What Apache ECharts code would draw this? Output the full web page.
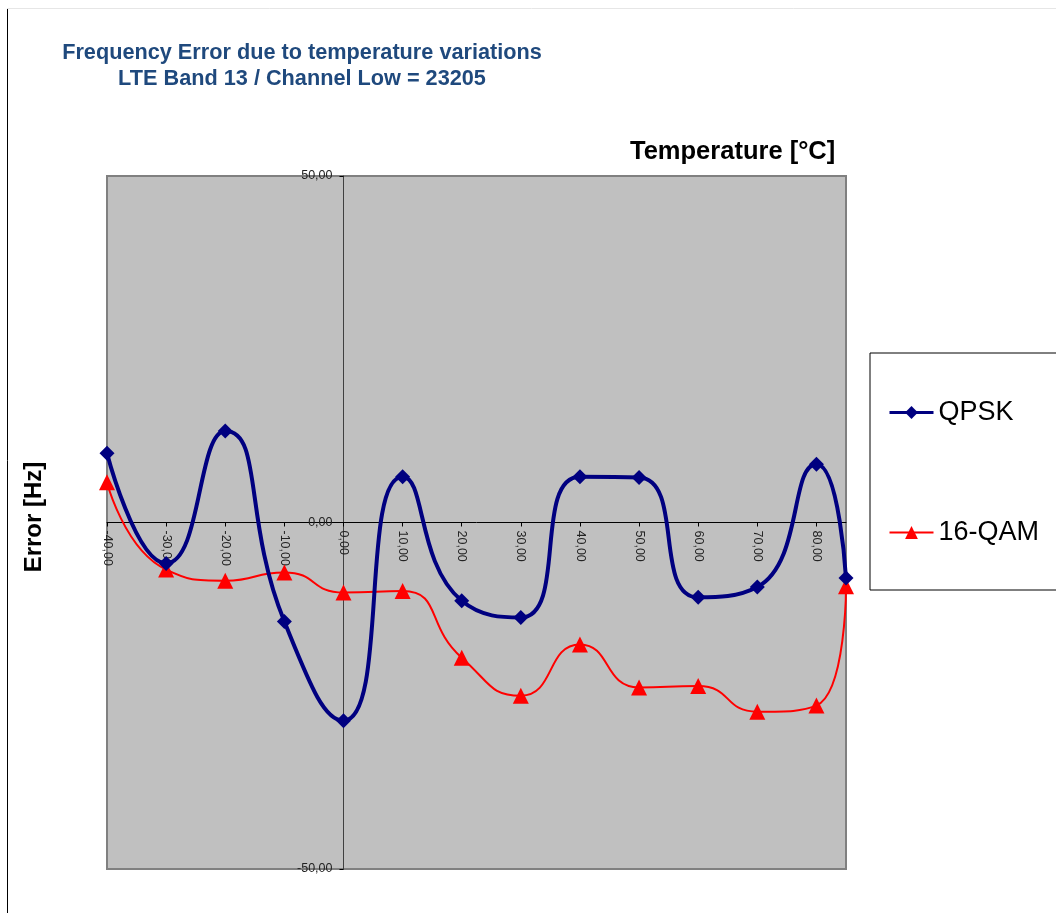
<!DOCTYPE html>
<html>
<head>
<meta charset="utf-8">
<script src="https://cdn.jsdelivr.net/npm/echarts@6/dist/echarts.min.js"></script>
<style>html,body{margin:0;padding:0;background:#fff}#c{width:1056px;height:913px}</style>
</head>
<body>
<div id="c"></div>
<script>
const temperatures = [-40, -30, -20, -10, 0, 10, 20, 30, 40, 50, 60, 70, 80, 85];
const qpsk = [10.0, -5.9, 13.2, -14.3, -28.6, 6.6, -11.3, -13.7, 6.6, 6.5, -10.8, -9.3, 8.4, -8.0];
const qam16 = [5.8, -6.8, -8.4, -7.2, -10.1, -9.9, -19.5, -25.0, -17.6, -23.8, -23.6, -27.3, -26.4, -9.2];
const seriesNames = ['QPSK', '16-QAM'];
const titleLines = ['Frequency Error due to temperature variations', 'LTE Band 13 / Channel Low = 23205'];
const xAxisTitle = 'Temperature [°C]';
const yAxisTitle = 'Error [Hz]';

const fmt = v => v.toFixed(2).replace('.', ',');
const pairs = arr => temperatures.map((t, i) => [t, arr[i]]);
const FONT = '"Liberation Sans", Arial, sans-serif';

const GRID = { left: 107, top: 176, width: 739, height: 693 };
const X_MIN = -40, X_MAX = 85, Y_MIN = -50, Y_MAX = 50;
// place axes through the origin (like Excel's crossing at 0)
const xAxisOffset = -GRID.height * (0 - Y_MIN) / (Y_MAX - Y_MIN);
const yAxisOffset = -GRID.width * (0 - X_MIN) / (X_MAX - X_MIN);

const chart = echarts.init(document.getElementById('c'));
chart.setOption({
  animation: false,
  textStyle: { fontFamily: FONT },
  title: {
    text: titleLines.join('\n'),
    left: 297, top: 35, textAlign: 'center',
    textStyle: { fontSize: 21.7, fontWeight: 'bold', color: '#1f497d', lineHeight: 26, fontFamily: FONT }
  },
  grid: Object.assign({ show: true, backgroundColor: '#c0c0c0', borderColor: '#808080', borderWidth: 2 }, GRID),
  legend: {
    orient: 'vertical', left: 870, top: 353,
    padding: [46, 40, 44, 18],
    itemGap: 93, itemWidth: 44, itemHeight: 16,
    borderColor: '#000', borderWidth: 1, backgroundColor: '#fff',
    textStyle: { fontSize: 27, color: '#000', fontFamily: FONT },
    data: [
      { name: seriesNames[0], lineStyle: { width: 3 } },
      { name: seriesNames[1], lineStyle: { width: 2 } }
    ]
  },
  xAxis: {
    type: 'value', min: X_MIN, max: X_MAX, interval: 10,
    position: 'bottom', offset: xAxisOffset,
    axisLine: { onZero: false, lineStyle: { color: '#000', width: 1 } },
    axisTick: { show: true, length: 4, lineStyle: { color: '#000' } },
    splitLine: { show: false },
    axisLabel: {
      rotate: -90, fontSize: 12.5, color: '#222', margin: 8, showMaxLabel: false,
      formatter: v => fmt(v)
    }
  },
  yAxis: {
    type: 'value', min: Y_MIN, max: Y_MAX, interval: 50,
    position: 'left', offset: yAxisOffset,
    axisLine: { show: true, onZero: false, lineStyle: { color: '#404040', width: 1 } },
    axisTick: { show: true, length: 4, lineStyle: { color: '#000' } },
    splitLine: { show: false },
    axisLabel: { fontSize: 12.5, color: '#222', margin: 11, formatter: v => fmt(v) }
  },
  graphic: [
    { type: 'line', shape: { x1: 7.5, y1: 8, x2: 7.5, y2: 913 }, style: { stroke: '#000', lineWidth: 1 } },
    { type: 'line', shape: { x1: 7, y1: 8.5, x2: 1056, y2: 8.5 }, style: { stroke: '#e6e6e6', lineWidth: 1 } },
    { type: 'text', left: 630, top: 139, style: { text: xAxisTitle, font: 'bold 25.5px ' + FONT, fill: '#000' } },
    { type: 'text', x: 34, y: 517, rotation: Math.PI / 2, style: { text: yAxisTitle, font: 'bold 24px ' + FONT, fill: '#000', textAlign: 'center', textVerticalAlign: 'middle' } }
  ],
  series: [
    {
      name: seriesNames[0], type: 'line', smooth: 0.55,
      data: pairs(qpsk),
      symbol: 'diamond', symbolSize: 15,
      lineStyle: { color: '#000080', width: 4 },
      itemStyle: { color: '#000080' }, z: 3
    },
    {
      name: seriesNames[1], type: 'line', smooth: 0.55,
      data: pairs(qam16),
      symbol: 'triangle', symbolSize: 16,
      lineStyle: { color: '#ff0000', width: 2 },
      itemStyle: { color: '#ff0000' }, z: 2
    }
  ]
});
</script>
</body>
</html>
